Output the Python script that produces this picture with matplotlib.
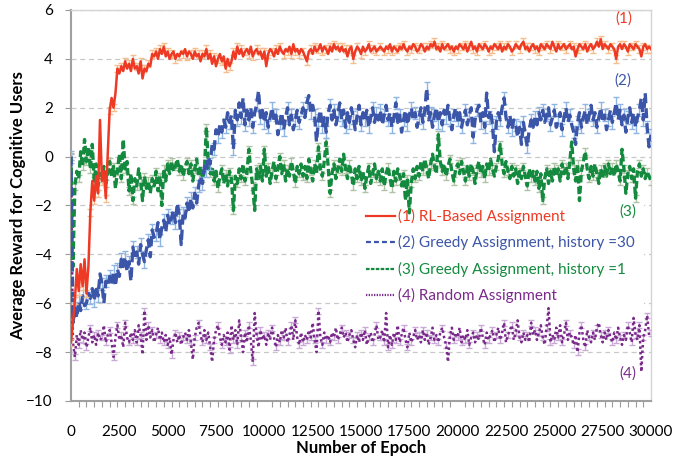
import numpy as np
import matplotlib
matplotlib.use("Agg")
import matplotlib.pyplot as plt
from matplotlib.lines import Line2D
from matplotlib.ticker import MultipleLocator, FixedLocator

plt.rcParams['font.family'] = ['Lato', 'DejaVu Sans']

# ---------------- data ----------------
epochs = np.arange(0, 30001, 100)

rl_based = [
    -7.6, -6.8, -5.9, -4.6, -5.5, -4.4, -5.3, -4.2, -5.6, -4.5, -2.3, -1.0, -1.8, -0.8, -1.5, 1.5, -1.0, -0.6, -1.7, 0.1,
    1.9, 2.4, 2.0, 2.6, 3.6, 3.4, 3.7, 3.5, 3.9, 3.6, 3.8, 3.5, 4.0, 3.6, 3.7, 3.4, 3.9, 3.2, 3.6, 3.5,
    3.8, 3.7, 4.2, 4.1, 4.3, 4.0, 4.4, 4.2, 4.5, 4.1, 4.3, 4.0, 4.2, 4.3, 4.0, 4.2, 4.1, 4.3, 4.2, 4.4,
    4.1, 4.3, 4.2, 4.0, 4.3, 4.1, 4.2, 3.9, 4.2, 4.1, 4.4, 4.0, 4.2, 3.8, 4.1, 3.7, 4.0, 4.2, 3.9, 4.1,
    3.6, 4.0, 3.7, 3.9, 4.3, 4.0, 4.5, 4.2, 4.4, 4.1, 4.3, 4.4, 4.2, 4.5, 4.1, 4.3, 4.4, 4.2, 4.3, 4.0,
    4.3, 3.7, 4.2, 4.4, 4.3, 4.1, 4.4, 4.2, 4.5, 4.3, 4.2, 4.4, 4.3, 4.5, 4.2, 4.6, 4.3, 4.4, 4.2, 4.4,
    4.3, 4.1, 3.9, 4.3, 4.4, 4.2, 4.5, 4.3, 4.4, 4.6, 4.3, 4.5, 4.4, 4.2, 4.5, 4.3, 4.6, 4.4, 4.5, 4.3,
    4.5, 4.3, 4.4, 4.1, 4.4, 4.5, 4.0, 4.3, 4.5, 4.4, 4.2, 4.5, 4.3, 4.4, 4.6, 4.3, 4.4, 4.5, 4.3, 4.4,
    4.5, 4.4, 4.3, 4.5, 4.4, 4.6, 4.3, 4.5, 4.4, 4.3, 4.5, 4.4, 4.6, 4.4, 4.3, 4.5, 4.4, 4.6, 4.5, 4.3,
    4.4, 4.6, 4.5, 4.3, 4.5, 4.4, 4.6, 4.5, 4.7, 4.4, 4.5, 4.3, 4.6, 4.4, 4.5, 4.6, 4.4, 4.5, 4.3, 4.5,
    4.4, 4.6, 4.5, 4.4, 4.6, 4.3, 4.5, 4.7, 4.4, 4.5, 4.3, 4.6, 4.5, 4.4, 4.6, 4.5, 4.3, 4.5, 4.4, 4.6,
    4.5, 4.4, 4.6, 4.3, 4.5, 4.4, 4.6, 4.5, 4.3, 4.4, 4.6, 4.5, 4.4, 4.6, 4.7, 4.4, 4.5, 4.3, 4.5, 4.6,
    4.4, 4.5, 4.3, 4.6, 4.5, 4.4, 4.6, 4.5, 4.4, 4.7, 4.5, 4.3, 4.6, 4.4, 4.5, 4.6, 4.4, 4.5, 4.6, 4.4,
    4.5, 4.1, 4.4, 4.6, 4.5, 4.4, 4.6, 4.3, 4.5, 4.6, 4.4, 4.5, 4.7, 4.5, 4.8, 4.4, 4.6, 4.5, 4.4, 4.6,
    4.5, 4.4, 4.0, 4.5, 4.6, 4.4, 4.6, 4.5, 4.3, 4.6, 4.5, 4.4, 4.6, 4.5, 4.4, 4.1, 4.5, 4.6, 4.4, 4.5,
    4.4,
]

greedy_h30 = [
    0.0, -6.8, -6.2, -6.6, -5.9, -6.3, -5.7, -6.1, -6.0, -5.6, -5.8, -5.4, -5.9, -5.3, -5.7, -4.8, -5.2, -6.0, -5.1, -5.3,
    -4.9, -5.2, -4.7, -5.3, -4.6, -4.9, -4.2, -4.5, -4.1, -4.7, -4.3, -5.1, -3.7, -4.2, -3.9, -4.4, -3.6, -4.0, -4.3, -3.8,
    -3.4, -4.1, -3.0, -3.3, -3.2, -2.7, -3.4, -2.9, -2.6, -3.1, -2.4, -2.8, -2.5, -2.2, -2.7, -1.9, -2.4, -3.6, -2.3, -2.5,
    -1.9, -2.3, -1.7, -2.1, -1.5, -1.9, -1.2, -0.8, -1.1, -0.4, -0.6, 0.0, -0.3, 0.5, 0.3, 1.1, 0.8, 1.3, 1.0, 1.5,
    1.2, 1.8, 1.4, 1.7, 0.3, 1.9, 1.5, 2.2, 1.6, 2.4, 1.3, 1.9, 1.5, 2.0, 1.2, 1.8, 2.1, 2.7, 1.6, 1.9,
    1.4, 1.8, 1.2, 1.6, 2.0, 1.5, 1.7, 0.9, 1.4, 1.8, 1.1, 1.6, 2.0, 1.3, 1.7, 1.1, 1.5, 1.9, 1.4, 1.7,
    2.0, 1.6, 2.2, 2.5, 1.8, 2.1, 1.7, 0.6, 1.5, 1.9, 1.2, 1.6, 1.0, 1.8, 2.1, 1.5, 1.9, 1.3, 1.7, 2.2,
    1.5, 1.9, 1.2, 1.8, 1.4, 2.0, 1.6, 1.1, 1.7, 2.1, 1.3, 1.8, 1.5, 1.9, 1.2, 1.6, 2.0, 1.4, 1.8, 1.5,
    1.9, 1.3, 1.7, 2.1, 1.5, 1.8, 1.2, 1.6, 2.2, 1.4, 1.7, 1.0, 1.5, 1.9, 1.3, 1.7, 2.0, 1.5, 1.8, 1.2,
    1.6, 2.0, 1.4, 1.9, 2.8, 1.5, 1.8, 1.2, 1.7, 2.0, 1.4, 1.8, 1.3, 1.9, 1.6, 2.1, 1.5, 1.1, 1.7, 2.0,
    1.5, 1.8, 1.2, 1.6, 1.9, 1.3, 1.7, 2.0, 0.8, 1.5, 1.9, 2.1, 1.4, 1.8, 1.2, 2.6, 1.6, 1.9, 1.3, 0.2,
    1.4, 1.8, 1.5, 2.0, 2.4, 1.6, 1.2, 1.7, 1.1, 1.5, 1.3, 0.8, 1.2, 0.5, 1.4, 0.9, 0.4, 1.1, 1.5, 1.2,
    1.6, 1.3, 1.8, 1.5, 1.9, 1.4, 1.7, 2.0, 1.3, 1.6, 1.9, 1.2, 1.5, 1.8, 1.1, 1.6, 2.0, 1.4, 1.7, 1.3,
    1.0, 0.5, 1.4, 1.8, 1.2, 1.6, 1.9, 1.3, 1.7, 2.1, 1.5, 1.8, 1.2, 1.6, 2.0, 1.4, 1.7, 1.1, 1.5, 1.9,
    1.4, 1.8, 2.2, 1.5, 1.9, 1.3, 1.7, 1.0, 1.6, 2.0, 1.4, 1.8, 1.2, 1.6, 1.9, 2.4, 1.5, 2.6, 1.2, 0.4,
    0.9,
]

greedy_h1 = [
    0.0, -4.5, -1.2, -0.6, -0.9, 0.2, -0.4, 0.7, -0.2, 0.4, -0.5, 0.5, -1.0, -0.3, -1.2, -0.6, -0.9, -0.4, -1.1, -0.7,
    -0.2, -0.8, -0.4, -1.3, -0.6, 0.1, -0.9, 0.7, -0.5, -0.2, -1.4, -0.7, -1.8, -0.9, -1.2, -0.5, -1.0, -1.8, -0.8, -1.3,
    -1.0, -1.5, -0.9, -1.2, -0.6, -1.4, -0.8, -2.0, -0.5, -1.0, -0.3, -0.7, -0.2, -0.6, -0.4, -0.1, -0.6, -0.3, -0.8, -0.4,
    -0.2, -0.7, -0.3, -1.0, -0.5, -0.1, -0.8, -0.4, -0.9, -0.6, 1.2, -0.2, -0.7, -0.4, -1.0, -0.6, -1.3, -0.8, -0.5, -1.1,
    -0.7, -1.2, -0.6, -0.9, -2.2, -0.8, -1.1, -0.5, -0.9, -0.3, -1.0, -0.7, 0.3, -0.6, -1.2, -2.2, -0.5, -0.9, -0.4, -1.0,
    0.3, -0.8, -0.4, -1.1, -0.6, -0.2, -0.9, -0.5, 0.0, -0.7, -0.3, -1.0, -0.5, -0.8, -0.2, -0.6, -1.1, -0.4, -0.7, -0.3,
    -0.8, -0.4, -0.9, -0.1, -0.6, -1.0, -0.3, -0.7, 0.4, -0.5, -0.8, -0.2, 0.6, -0.4, -1.5, -0.7, -0.3, -0.9, -0.5, -0.1,
    -0.6, 0.1, -0.5, -0.9, -0.3, -0.7, -1.2, -0.5, -0.9, -0.4, -1.0, -0.6, -1.3, -0.8, -0.4, -1.1, -0.7, -0.3, -0.9, -0.6,
    -1.0, -0.5, -1.2, -0.7, -0.4, -0.9, -1.3, -0.6, -1.0, -0.5, -0.8, -1.2, -0.7, -1.8, -0.9, -2.3, -1.1, -0.5, -0.9, -0.4,
    -0.8, -0.2, -0.6, -0.1, -0.5, -0.9, -0.3, 0.1, -0.4, -0.7, 0.9, -0.2, -0.6, -0.3, -0.8, -0.4, -0.1, -0.6, -1.0, -0.5,
    -0.3, -0.7, -0.2, -0.6, -1.0, -0.4, -0.8, -0.3, -0.6, -1.1, -0.5, -0.2, -0.7, -0.4, -0.9, -0.3, -0.6, -0.1, -0.5, -0.8,
    -0.4, -0.1, 0.5, -0.3, -0.7, -0.2, -0.6, -0.9, -0.4, -0.8, -0.5, -1.1, -0.6, -0.9, -0.4, -0.8, -1.2, -0.5, -0.9, -0.6,
    -1.0, -0.6, -1.3, -0.7, -1.8, -0.9, -0.5, -1.1, -0.6, -1.0, -0.4, -0.8, -0.5, -1.0, -0.3, -0.7, -0.4, -0.9, -0.2, 0.6,
    -0.5, -1.0, -0.3, -1.8, -0.6, -0.2, 0.2, -0.5, -0.9, -0.4, -0.8, -0.3, -0.7, -1.1, -0.5, -0.9, -0.4, -0.8, -0.3, -0.7,
    -0.4, -0.8, -0.3, -0.6, -1.0, 0.3, -0.5, -1.5, -0.7, -0.4, -0.9, -0.5, -1.7, -0.6, -0.3, -0.8, -0.5, -0.9, -0.6, -0.8,
    -1.0,
]

random_assign = [
    0.0, -7.6, -8.2, -7.3, -7.7, -7.1, -7.5, -7.2, -7.8, -7.4, -7.0, -7.6, -7.3, -7.7, -7.2, -7.5, -7.4, -6.9, -7.6, -7.3,
    -7.1, -7.6, -8.2, -7.4, -6.9, -7.5, -7.3, -7.8, -6.8, -7.4, -7.6, -7.2, -7.5, -7.1, -7.6, -6.9, -7.3, -8.1, -6.3, -7.5,
    -6.9, -7.4, -7.1, -7.6, -7.3, -7.0, -7.5, -7.2, -7.6, -7.3, -7.7, -7.4, -8.1, -7.5, -7.2, -7.6, -7.3, -7.7, -7.4, -7.2,
    -7.5, -7.1, -7.6, -8.3, -7.4, -7.0, -6.8, -7.3, -7.6, -7.1, -7.5, -7.2, -7.8, -8.4, -7.5, -7.1, -6.9, -7.4, -7.7, -7.3,
    -7.6, -7.2, -7.9, -6.9, -7.5, -7.1, -7.7, -6.7, -7.4, -8.0, -7.2, -7.6, -6.9, -7.5, -8.4, -6.4, -7.3, -7.8, -7.1, -7.5,
    -7.3, -7.7, -7.2, -7.5, -7.0, -7.4, -7.8, -7.3, -7.6, -7.1, -7.4, -7.0, -7.6, -7.3, -6.9, -7.5, -6.7, -7.4, -7.7, -7.2,
    -7.6, -7.3, -7.5, -7.1, -7.4, -6.8, -7.5, -8.0, -6.3, -7.4, -7.7, -7.2, -7.5, -7.3, -7.6, -7.2, -7.4, -7.0, -7.5, -7.3,
    -7.0, -7.4, -7.2, -7.6, -7.3, -7.1, -7.5, -7.8, -7.3, -7.6, -7.2, -7.5, -7.1, -7.7, -7.4, -7.2, -7.6, -7.3, -6.9, -7.5,
    -7.4, -7.1, -7.6, -6.4, -7.8, -7.3, -7.7, -7.2, -7.5, -6.9, -7.6, -7.3, -7.0, -7.5, -7.8, -7.2, -7.6, -7.4, -7.1, -7.5,
    -7.3, -7.6, -7.1, -7.5, -7.2, -7.7, -7.4, -7.0, -7.5, -7.3, -7.6, -7.2, -7.0, -7.4, -7.7, -8.4, -7.3, -7.0, -7.5, -7.2,
    -7.4, -7.0, -7.6, -7.3, -7.5, -7.1, -7.7, -7.4, -7.2, -7.6, -7.3, -7.5, -7.0, -7.4, -7.7, -7.2, -7.5, -7.3, -7.1, -7.6,
    -7.3, -7.0, -7.5, -7.2, -6.8, -7.6, -7.3, -7.1, -6.9, -7.5, -7.2, -6.7, -7.4, -7.6, -7.2, -7.5, -7.3, -7.6, -6.8, -7.3,
    -7.1, -7.5, -7.2, -6.9, -7.4, -7.7, -7.0, -6.2, -7.6, -7.3, -7.5, -7.0, -7.4, -6.9, -7.6, -7.3, -6.8, -7.5, -7.2, -7.4,
    -7.7, -7.3, -8.0, -7.2, -6.9, -7.5, -7.8, -7.1, -7.4, -7.6, -7.2, -7.5, -7.0, -6.8, -7.3, -7.6, -7.2, -7.5, -7.1, -7.4,
    -7.6, -7.2, -7.5, -7.0, -7.4, -7.7, -7.3, -7.5, -6.9, -7.2, -7.6, -6.6, -7.3, -7.5, -6.9, -8.8, -7.4, -7.1, -6.5, -7.3,
    -7.2,
]

err_rl = 0.15
err_h30 = 0.25
err_h1 = 0.15
err_rand = 0.12

labels = ["(1) RL-Based Assignment",
          "(2) Greedy Assignment, history =30",
          "(3) Greedy Assignment, history =1",
          "(4) Random Assignment"]
short_tags = ["(1)", "(2)", "(3)", "(4)"]
xticks = list(range(0, 30001, 2500))
yticks = list(range(-10, 7, 2))

# ---------------- style ----------------
c_red, e_red = "#EE3A24", "#F6BE8E"
c_blue, e_blue = "#3B55A9", "#8FB6E2"
c_green, e_green = "#138A3E", "#AFC3A4"
c_purple, e_purple = "#7A2A8A", "#C9A9D6"

fig = plt.figure(figsize=(6.91, 4.61), dpi=100)
ax = fig.add_axes([71/691, 1-401/461, 580/691, 391/461])

ax.set_axisbelow(True)
ax.yaxis.grid(True, color="#C8C8C8", linestyle=(0, (4, 3)), linewidth=0.9)

# random (4)
ax.errorbar(epochs, random_assign, yerr=err_rand, color=c_purple, ecolor=e_purple,
            linestyle=(0, (1, 1.2)), linewidth=1.8, elinewidth=1.0, capsize=2,
            errorevery=2, zorder=3)
# greedy h=1 (3)
ax.errorbar(epochs, greedy_h1, yerr=err_h1, color=c_green, ecolor=e_green,
            linestyle=(0, (2.2, 1.0)), linewidth=2.4, elinewidth=1.0, capsize=2,
            errorevery=2, zorder=4)
# greedy h=30 (2)
ax.errorbar(epochs, greedy_h30, yerr=err_h30, color=c_blue, ecolor=e_blue,
            linestyle=(0, (3, 1.5)), linewidth=2.4, elinewidth=1.0, capsize=2,
            errorevery=2, zorder=5)
# RL (1)
ax.errorbar(epochs, rl_based, yerr=err_rl, color=c_red, ecolor=e_red,
            linestyle="-", linewidth=1.8, elinewidth=1.0, capsize=2,
            errorevery=2, zorder=6)

ax.set_xlim(0, 30000)
ax.set_ylim(-10, 6)
ax.xaxis.set_major_locator(FixedLocator(xticks))
ax.xaxis.set_minor_locator(MultipleLocator(400))
ax.yaxis.set_major_locator(FixedLocator(yticks))
ax.tick_params(axis="x", which="major", length=0, pad=17, labelsize=11)
ax.tick_params(axis="x", which="minor", length=4, width=0.8, color="#9A9A9A", direction="out")
ax.tick_params(axis="y", which="major", length=4, width=0.8, color="#9A9A9A", pad=9, labelsize=11)

for side in ["top", "right"]:
    ax.spines[side].set_color("#D4D4D4")
    ax.spines[side].set_linewidth(1.0)
for side in ["left", "bottom"]:
    ax.spines[side].set_color("#A0A0A0")
    ax.spines[side].set_linewidth(1.5)

ax.set_xlabel("Number of Epoch", fontsize=12, fontweight="bold", labelpad=1)
ax.set_ylabel("Average Reward for Cognitive Users", fontsize=12, fontweight="bold", labelpad=0)

colors = [c_red, c_blue, c_green, c_purple]
styles = ["-", (0, (2.2, 1.4)), (0, (1.6, 0.6)), (0, (0.6, 0.6))]
handles = [Line2D([0], [0], color=c, linestyle=s, linewidth=1.6) for c, s in zip(colors, styles)]
leg = ax.legend(handles, labels, loc="upper left", bbox_to_anchor=(0.493, 0.515),
                borderaxespad=0, frameon=True, facecolor="white", edgecolor="none",
                framealpha=1.0, fancybox=False, fontsize=11, handlelength=1.9,
                handletextpad=0.2, labelspacing=0.75, borderpad=0.6)
leg.set_zorder(1)
for t, c in zip(leg.get_texts(), colors):
    t.set_color(c)

tag_pos = [(28600, 5.65), (28550, 3.11), (28800, -2.24), (28800, -8.88)]
for tag, (xx, yy), c in zip(short_tags, tag_pos, colors):
    ax.text(xx, yy, tag, color=c, fontsize=11, ha="center", va="center", zorder=7)

fig.savefig("out.png", dpi=100)
